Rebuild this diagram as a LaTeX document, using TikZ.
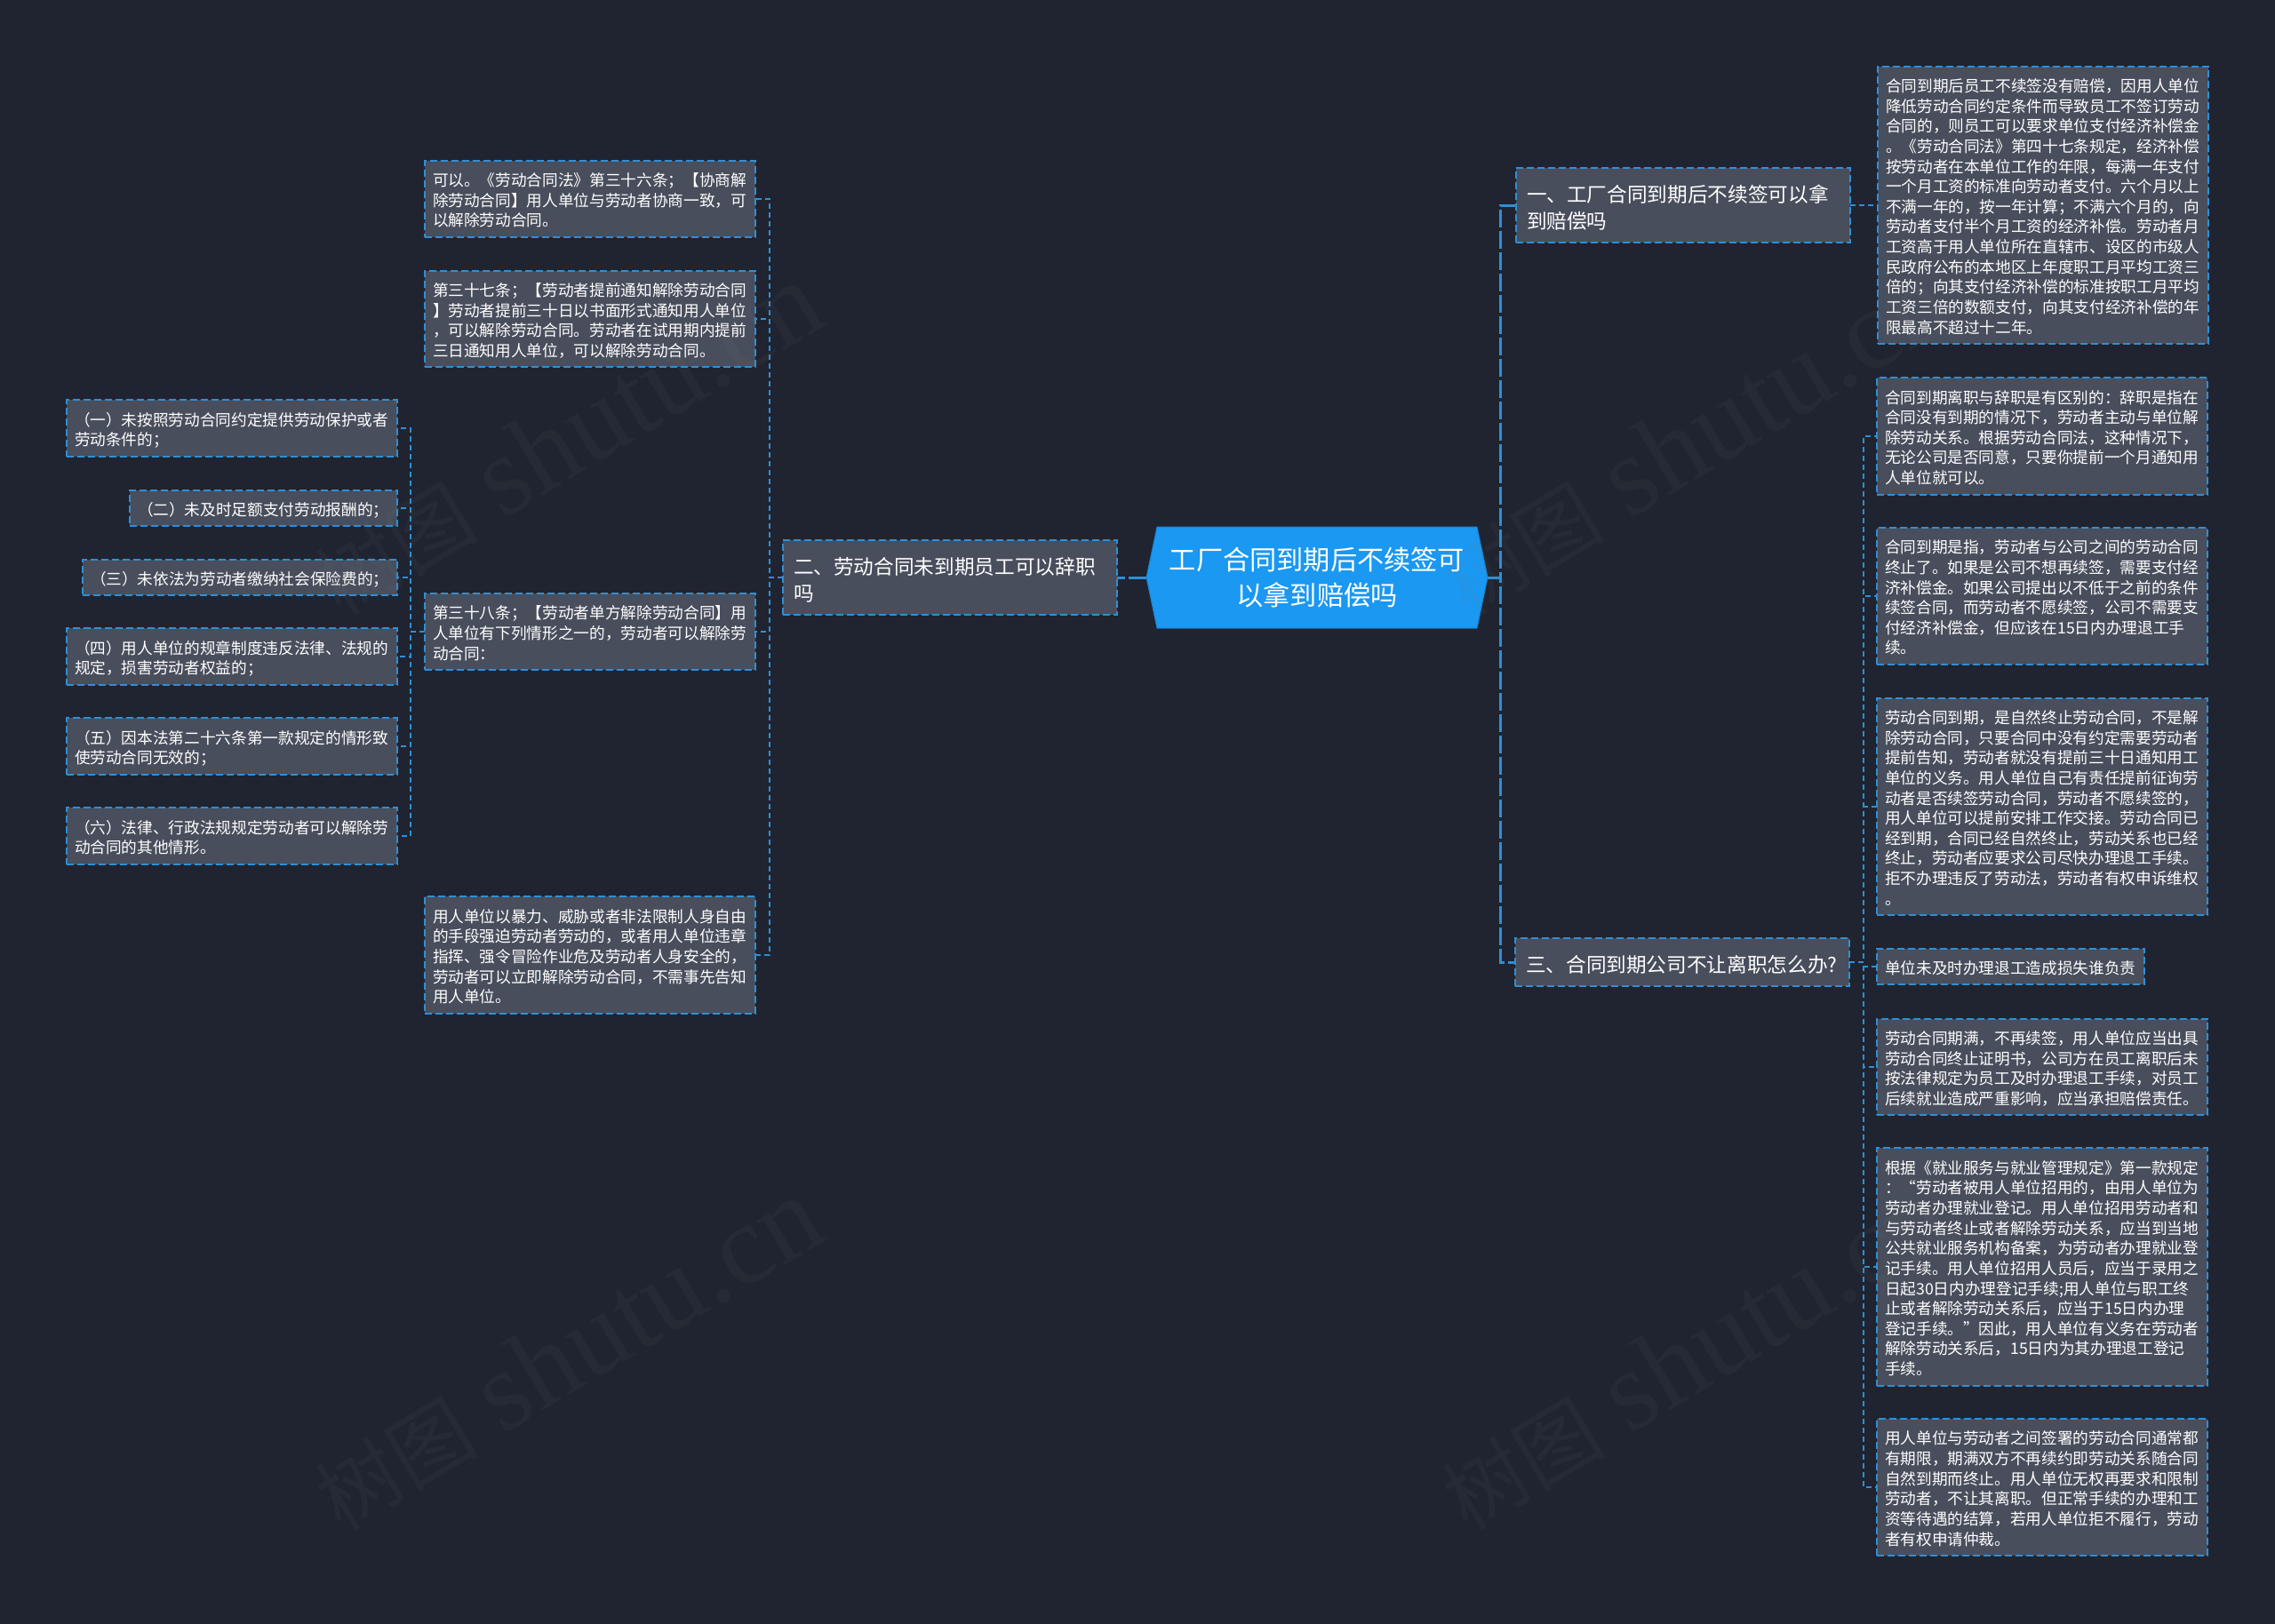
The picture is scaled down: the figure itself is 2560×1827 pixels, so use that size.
\documentclass[tikz,border=0pt]{standalone}
\usepackage{fontspec}
\setmainfont{Noto Sans CJK SC}
\newfontfamily\markfont{Liberation Serif}
\definecolor{pagebg}{HTML}{1F2430}
\definecolor{boxfill}{HTML}{484E5C}
\definecolor{linkblue}{HTML}{2E8FD6}
\definecolor{rootblue}{HTML}{1A98F2}
\newcommand{\linefill}{\rule[-0.17em]{0pt}{\baselineskip}}
\newcommand{\marktext}{{\fontsize{46}{46}\selectfont 树图} {\markfont shutu.cn}}
\tikzset{
  leaf/.style={rectangle,draw=linkblue,fill=boxfill,text=white,line width=0.9pt,dash pattern=on 4pt off 2pt,
    inner xsep=4.5pt,inner ysep=4.5pt,outer sep=0pt,align=left,text width=#1,
    font=\fontsize{8.83}{11.33}\selectfont,
    execute at begin node=\linefill,execute at end node=\linefill},   % small text box
  leaf/.default=177pt,
  branch/.style={leaf=176pt,inner xsep=6pt,inner ysep=6pt,
    font=\fontsize{11.33}{15}\selectfont},                            % second level
  rootbox/.style={rectangle,minimum width=192pt,minimum height=57pt,text=white,
    inner sep=0pt,outer sep=0pt,align=center,
    font=\fontsize{15.1}{20}\selectfont},                             % middle of the map
  rootface/.style={draw=rootblue!85!black,fill=rootblue,line width=0.5pt},
  link/.style={linkblue,line width=0.9pt,dash pattern=on 3pt off 2pt},
  rootlink/.style={linkblue,line width=1.5pt,dash pattern=on 10pt off 2pt},
  wmark/.style={rotate=31,anchor=west,text=gray,opacity=0.07,inner sep=0pt,
    font=\fontsize{64}{64}\selectfont},                               % faint mark on top
}

\begin{document}
\begin{tikzpicture}[x=0.5pt,y=-0.5pt]
  \useasboundingbox (0,0) rectangle (2560,1827);
  \fill[pagebg] (-10,-10) rectangle (2570,1837);

  % middle
  \filldraw[rootface] (1290,650) -- (1302,593) -- (1662,593) -- (1674,650) -- (1662,707) -- (1302,707) -- cycle;
  \node[rootbox] (root) at (1482,650) {工厂合同到期后不续签可\\以拿到赔偿吗};

  % second level
  \node[branch,anchor=west] (one) at (1706,231) {一、工厂合同到期后不续签可以拿\\到赔偿吗};
  \node[branch,anchor=east] (two) at (1257,650) {二、劳动合同未到期员工可以辞职\\吗};
  \node[branch,anchor=west] (three) at (1705,1083) {三、合同到期公司不让离职怎么办?};

  % right column
  \node[leaf,anchor=west] (ra) at (2113,231) {合同到期后员工不续签没有赔偿，因用人单位\\降低劳动合同约定条件而导致员工不签订劳动\\合同的，则员工可以要求单位支付经济补偿金\\。《劳动合同法》第四十七条规定，经济补偿\\按劳动者在本单位工作的年限，每满一年支付\\一个月工资的标准向劳动者支付。六个月以上\\不满一年的，按一年计算；不满六个月的，向\\劳动者支付半个月工资的经济补偿。劳动者月\\工资高于用人单位所在直辖市、设区的市级人\\民政府公布的本地区上年度职工月平均工资三\\倍的；向其支付经济补偿的标准按职工月平均\\工资三倍的数额支付，向其支付经济补偿的年\\限最高不超过十二年。};
  \node[leaf,anchor=west] (rb) at (2112,491) {合同到期离职与辞职是有区别的：辞职是指在\\合同没有到期的情况下，劳动者主动与单位解\\除劳动关系。根据劳动合同法，这种情况下，\\无论公司是否同意，只要你提前一个月通知用\\人单位就可以。};
  \node[leaf,anchor=west] (rc) at (2112,671) {合同到期是指，劳动者与公司之间的劳动合同\\终止了。如果是公司不想再续签，需要支付经\\济补偿金。如果公司提出以不低于之前的条件\\续签合同，而劳动者不愿续签，公司不需要支\\付经济补偿金，但应该在15日内办理退工手\\续。};
  \node[leaf,anchor=west] (rd) at (2112,908) {劳动合同到期，是自然终止劳动合同，不是解\\除劳动合同，只要合同中没有约定需要劳动者\\提前告知，劳动者就没有提前三十日通知用工\\单位的义务。用人单位自己有责任提前征询劳\\动者是否续签劳动合同，劳动者不愿续签的，\\用人单位可以提前安排工作交接。劳动合同已\\经到期，合同已经自然终止，劳动关系也已经\\终止，劳动者应要求公司尽快办理退工手续。\\拒不办理违反了劳动法，劳动者有权申诉维权\\。};
  \node[leaf=141.5pt,anchor=west] (re) at (2112,1088) {单位未及时办理退工造成损失谁负责};
  \node[leaf,anchor=west] (rf) at (2112,1201) {劳动合同期满，不再续签，用人单位应当出具\\劳动合同终止证明书，公司方在员工离职后未\\按法律规定为员工及时办理退工手续，对员工\\后续就业造成严重影响，应当承担赔偿责任。};
  \node[leaf,anchor=west] (rg) at (2112,1426) {根据《就业服务与就业管理规定》第一款规定\\：“劳动者被用人单位招用的，由用人单位为\\劳动者办理就业登记。用人单位招用劳动者和\\与劳动者终止或者解除劳动关系，应当到当地\\公共就业服务机构备案，为劳动者办理就业登\\记手续。用人单位招用人员后，应当于录用之\\日起30日内办理登记手续;用人单位与职工终\\止或者解除劳动关系后，应当于15日内办理\\登记手续。”因此，用人单位有义务在劳动者\\解除劳动关系后，15日内为其办理退工登记\\手续。};
  \node[leaf,anchor=west] (rh) at (2112,1674) {用人单位与劳动者之间签署的劳动合同通常都\\有期限，期满双方不再续约即劳动关系随合同\\自然到期而终止。用人单位无权再要求和限制\\劳动者，不让其离职。但正常手续的办理和工\\资等待遇的结算，若用人单位拒不履行，劳动\\者有权申请仲裁。};

  % left column
  \node[leaf,anchor=east] (ma) at (850,224) {可以。《劳动合同法》第三十六条；【协商解\\除劳动合同】用人单位与劳动者协商一致，可\\以解除劳动合同。};
  \node[leaf,anchor=east] (mb) at (850,359) {第三十七条；【劳动者提前通知解除劳动合同\\】劳动者提前三十日以书面形式通知用人单位\\，可以解除劳动合同。劳动者在试用期内提前\\三日通知用人单位，可以解除劳动合同。};
  \node[leaf,anchor=east] (mc) at (850,711) {第三十八条；【劳动者单方解除劳动合同】用\\人单位有下列情形之一的，劳动者可以解除劳\\动合同：};
  \node[leaf,anchor=east] (md) at (850,1075) {用人单位以暴力、威胁或者非法限制人身自由\\的手段强迫劳动者劳动的，或者用人单位违章\\指挥、强令冒险作业危及劳动者人身安全的，\\劳动者可以立即解除劳动合同，不需事先告知\\用人单位。};

  % far left column
  \node[leaf,anchor=east] (fa) at (447,482) {（一）未按照劳动合同约定提供劳动保护或者\\劳动条件的；};
  \node[leaf=141.5pt,anchor=east] (fb) at (447,572) {（二）未及时足额支付劳动报酬的；};
  \node[leaf=168pt,anchor=east] (fc) at (447,650) {（三）未依法为劳动者缴纳社会保险费的；};
  \node[leaf,anchor=east] (fd) at (447,739) {（四）用人单位的规章制度违反法律、法规的\\规定，损害劳动者权益的；};
  \node[leaf,anchor=east] (fe) at (447,840) {（五）因本法第二十六条第一款规定的情形致\\使劳动合同无效的；};
  \node[leaf,anchor=east] (ff) at (447,941) {（六）法律、行政法规规定劳动者可以解除劳\\动合同的其他情形。};

  % connectors
  \draw[rootlink] (root.west) -- (two.east);
  \draw[rootlink] (root.east) -- ++(14,0) |- (one.west);
  \draw[rootlink] (root.east) -- ++(14,0) |- (three.west);
  \draw[link] (one.east) -- (ra.west);
  \draw[link] (three.east) -- ++(16,0) |- (rb.west);
  \draw[link] (three.east) -- ++(16,0) |- (rc.west);
  \draw[link] (three.east) -- ++(16,0) |- (rd.west);
  \draw[link] (three.east) -- ++(16,0) |- (re.west);
  \draw[link] (three.east) -- ++(16,0) |- (rf.west);
  \draw[link] (three.east) -- ++(16,0) |- (rg.west);
  \draw[link] (three.east) -- ++(16,0) |- (rh.west);
  \draw[link] (two.west) -- ++(-15,0) |- (ma.east);
  \draw[link] (two.west) -- ++(-15,0) |- (mb.east);
  \draw[link] (two.west) -- ++(-15,0) |- (mc.east);
  \draw[link] (two.west) -- ++(-15,0) |- (md.east);
  \draw[link] (mc.west) -- ++(-16,0) |- (fa.east);
  \draw[link] (mc.west) -- ++(-16,0) |- (fb.east);
  \draw[link] (mc.west) -- ++(-16,0) |- (fc.east);
  \draw[link] (mc.west) -- ++(-16,0) |- (fd.east);
  \draw[link] (mc.west) -- ++(-16,0) |- (fe.east);
  \draw[link] (mc.west) -- ++(-16,0) |- (ff.east);

  % faint marks
  \node[wmark] (marka) at (362,660) {\marktext};
  \node[wmark] (markb) at (1630,660) {\marktext};
  \node[wmark] (markc) at (362,1690) {\marktext};
  \node[wmark] (markd) at (1630,1690) {\marktext};
\end{tikzpicture}
\end{document}
